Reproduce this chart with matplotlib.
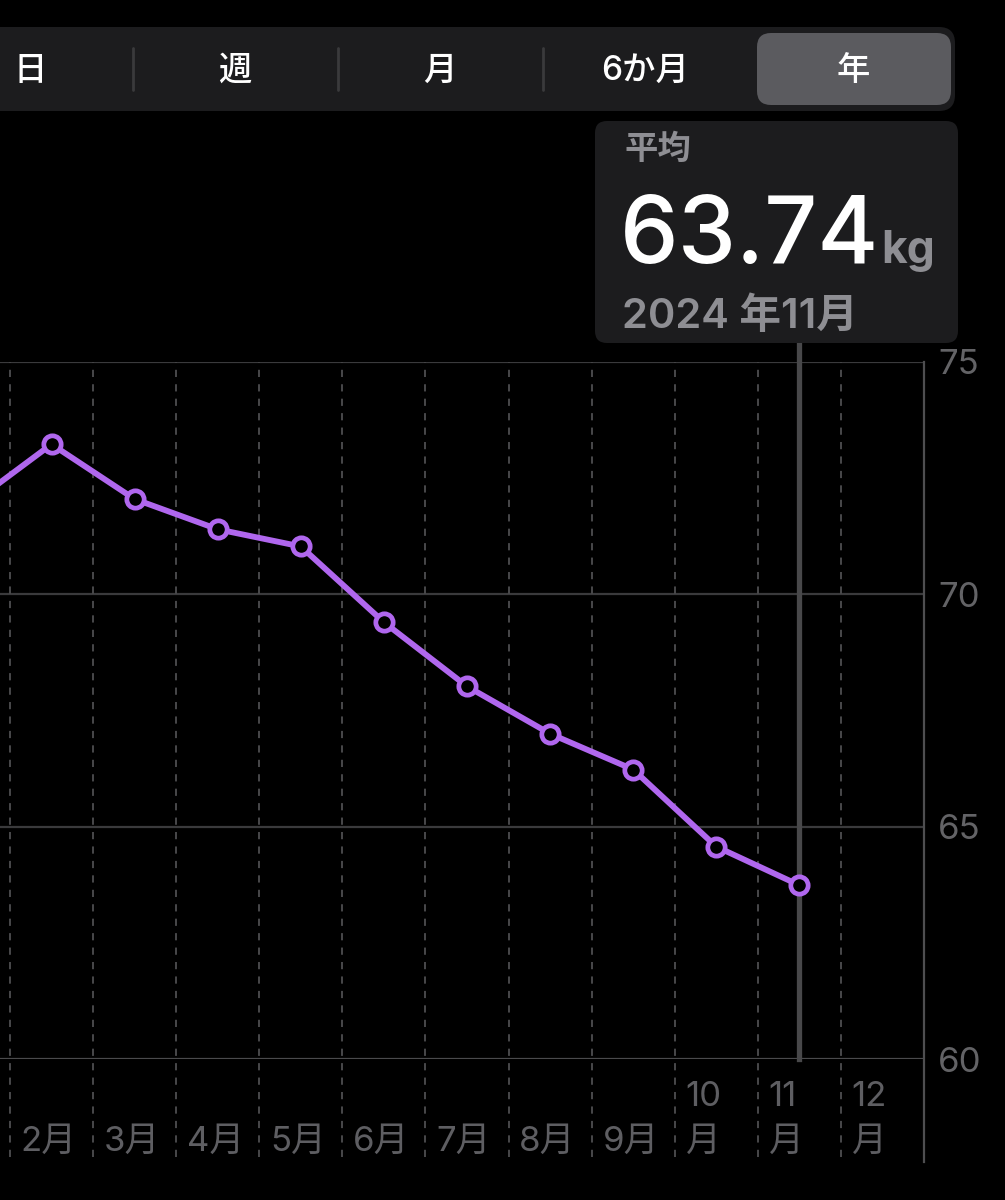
"""
Weight trend (yearly view) recreated in matplotlib
"""
import matplotlib
matplotlib.use("Agg")
from matplotlib import pyplot as plt
from matplotlib.patches import FancyBboxPatch

# DATA
months = [1, 2, 3, 4, 5, 6, 7, 8, 9, 10, 11]
weights = [71.90, 73.23, 72.05, 71.40, 71.03, 69.40, 68.02, 67.00, 66.23, 64.57, 63.74]
month_labels = ["1月", "2月", "3月", "4月", "5月", "6月", "7月", "8月", "9月", "10月", "11月", "12月"]
y_ticks = [60, 65, 70, 75]
segments = ["日", "週", "月", "6か月", "年"]
tooltip_title = "平均"
tooltip_value = "63.74"
tooltip_unit = "kg"
tooltip_date = "2024 年11月"
selected_month = 11

# STYLE
plt.rcParams['font.family'] = ['Inter', 'Noto Sans CJK JP', 'DejaVu Sans']
purple = '#b067ee'
grid_col = '#3a3a3c'
label_col = '#636366'

fig = plt.figure(figsize=(10.05, 12), dpi=100, facecolor='black')

# MAIN CHART AXES (pixel box 0..924 x 362..1059)
ax = fig.add_axes([0, 1 - 1059 / 1200, 924 / 1005, 697 / 1200])
ax.set_facecolor('black')
ax.set_xlim(1.38, 12.5)
ax.set_ylim(60, 75)
for s in ax.spines.values():
    s.set_visible(False)

# Horizontal grid
for t in y_ticks:
    ax.axhline(t, color='#4a4a4c' if t == y_ticks[0] else grid_col, lw=1.6, zorder=1)

# Month separators (dashed) and right border
for m in range(1, 12):
    ax.axvline(m + 0.5, ymin=-0.141, ymax=1, color='#4e4e50', lw=1.3,
               ls=(0, (4, 4)), clip_on=False, zorder=1)
ax.axvline(12.5, ymin=-0.148, ymax=1, color='#4e4e50', lw=1.6, clip_on=False, zorder=1)

# Selection line
ax.axvline(selected_month, ymin=0, ymax=(1059 - 343) / 697, color='#48484a', lw=3.8,
           clip_on=False, zorder=2)

# Series
ax.plot(months, weights, color=purple, lw=4.2, marker='o', markersize=12.5,
        markerfacecolor='black', markeredgecolor=purple, markeredgewidth=3.4,
        zorder=3, clip_on=True)

# Y axis on the right
ax.yaxis.tick_right()
ax.set_yticks(y_ticks)
ax.set_yticklabels([str(t) for t in y_ticks])
ax.tick_params(axis='y', length=0, pad=10, labelsize=25, labelcolor=label_col)
ax.set_xticks([])

# Month labels under each column (only columns whose start is visible)
xt = ax.get_xaxis_transform()
x_left = ax.get_xlim()[0]
for i, lab in enumerate(month_labels):
    x = i + 1 - 0.5 + 0.13
    if x < x_left:
        continue
    num = lab[:-1]
    if len(num) > 1:
        ax.text(x, -0.055, num, transform=xt, ha='left', va='center',
                fontsize=25, color='#5e5e62', clip_on=False)
        ax.text(x, -0.119, "月", transform=xt, ha='left', va='center',
                fontsize=25, color='#5e5e62', clip_on=False)
    else:
        ax.text(x, -0.119, lab, transform=xt, ha='left', va='center',
                fontsize=25, color='#5e5e62', clip_on=False)

# UI OVERLAY (pixel coordinates)
ui = fig.add_axes([0, 0, 1, 1])
ui.set_xlim(0, 1005)
ui.set_ylim(1200, 0)
ui.axis('off')

# Segmented control
ui.add_patch(FancyBboxPatch((-40, 27), 995, 84, boxstyle="round,pad=0,rounding_size=16",
                            fc='#1c1c1e', ec='none'))
ui.add_patch(FancyBboxPatch((757, 33), 194, 72, boxstyle="round,pad=0,rounding_size=14",
                            fc='#5b5b5f', ec='none'))
for sx in [133, 338, 543]:
    ui.plot([sx, sx], [48, 90], color='#3a3a3c', lw=2, solid_capstyle='round')
seg_centers = [30, 235, 440, 645, 853]
for name, cx in zip(segments, seg_centers):
    ui.text(cx, 71, name, ha='center', va='center', fontsize=24, color='white',
            fontweight='medium')

# Tooltip
ui.add_patch(FancyBboxPatch((595, 121), 363, 222, boxstyle="round,pad=0,rounding_size=12",
                            fc='#1c1c1e', ec='none'))
ui.text(624, 150, tooltip_title, ha='left', va='center', fontsize=24, color='#8e8e93',
        fontweight='bold')
big = ui.text(620, 263, tooltip_value, ha='left', va='baseline', fontsize=67,
              color='white', fontweight='medium')
ui.text(622, 328, tooltip_date, ha='left', va='baseline', fontsize=30, color='#8e8e93',
        fontweight='semibold')

fig.canvas.draw()
bb = big.get_window_extent()
ui.text(bb.x1 + 2, 263, tooltip_unit, ha='left', va='baseline', fontsize=32,
        color='#8e8e93', fontweight='bold')

plt.savefig("out.png", dpi=100, facecolor='black')
